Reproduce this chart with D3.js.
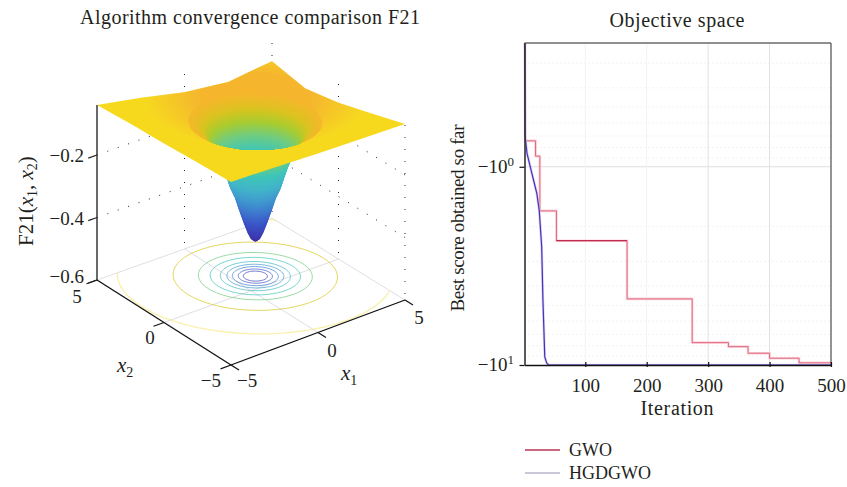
<!DOCTYPE html>
<html>
<head>
<meta charset="utf-8">
<script src="https://d3js.org/d3.v7.min.js"></script>
<style>
  html, body { margin: 0; padding: 0; background: #fff; }
  text { font-family: "Liberation Serif", serif; fill: #231f20; }
</style>
</head>
<body>
<svg id="chart" width="847" height="487"></svg>
<script>
// left panel: well profile (radius from the well centre -> height)
var wellCentre = [1, 1];
var wellRadius = [0.05, 0.23, 0.37, 0.55, 0.78, 0.96, 1.18, 1.36, 1.5, 1.7, 1.93, 2.2, 2.5, 2.84, 3.07];
var wellZ = [-0.488, -0.478, -0.459, -0.427, -0.382, -0.344, -0.312, -0.274, -0.245, -0.213, -0.181, -0.152, -0.126, -0.114, -0.107];

// outline of the flat part of the surface
var plateX1 = [-5, -5, -5, -5, -5, -2.5, 0, 2.5, 5, 5, 5, 5, 5, 2.5, 0, -2.5];
var plateX2 = [5, 2.5, 0, -2.5, -5, -5, -5, -5, -5, -2.5, 0, 2.5, 5, 5, 5, 5];
var plateZ = [-0.04, -0.032, -0.027, -0.02, -0.014, -0.02, -0.027, -0.032, -0.037, -0.069, -0.1, -0.12, -0.098, -0.115, -0.098, -0.066];

// contour rings on the floor
var contourRadius = [0.55, 0.78, 1.05, 1.3, 1.6, 2.06, 2.6, 3.75, 6.3];
var contourZ = [-0.46, -0.42, -0.37, -0.33, -0.28, -0.24, -0.2, -0.135, -0.1];

var xyTicks = [-5, 0, 5];
var zTicks = [-0.6, -0.4, -0.2];

// colour ramp
var colourZ = [-0.49, -0.42, -0.35, -0.29, -0.24, -0.2, -0.165, -0.135, -0.11];
var colourStops = ["#3d2ea6", "#3a55c8", "#3f8fd0", "#42b4c9", "#3fc6b8", "#70cc80", "#a8cc30", "#d8c420", "#f2b92c"];

// right panel
var iterTicks = [100, 200, 300, 400, 500];
var minorValues = [0.3, 0.4, 0.5, 0.6, 0.7, 0.8, 0.9, 2, 3, 4, 5, 6, 7, 8, 9];
var gwoIter = [1, 2, 19, 26, 53, 168, 274, 333, 365, 400, 448, 500];
var gwoScore = [-0.22, -0.74, -0.884, -1.67, -2.36, -4.64, -7.71, -8.08, -8.72, -9.24, -9.75, -10];
var hgdIter = [1, 2, 5, 13, 21, 25, 29, 31, 34, 37, 40, 500];
var hgdScore = [-0.22, -0.7, -0.854, -1.08, -1.36, -1.66, -2.54, -4.7, -9.1, -9.75, -10, -10];

var svg = d3.select("#chart");
var defs = svg.append("defs");

// ---------- left panel: 3D projection ----------
var cornerL = [97, 280], cornerF = [231, 365], cornerR = [405, 300], cornerB = [272, 218];
var u1 = d3.scaleLinear().domain([-5, 5]).range([0, 1]);
var u2 = d3.scaleLinear().domain([-5, 5]).range([0, 1]);
var zHeight = d3.scaleLinear().domain([-0.6, -0.2]).range([0, 125]);

function project(x1, x2, z) {
  var a = u1(x1), b = u2(x2);
  var px = (1 - a) * (1 - b) * cornerF[0] + a * (1 - b) * cornerR[0] + (1 - a) * b * cornerL[0] + a * b * cornerB[0];
  var py = (1 - a) * (1 - b) * cornerF[1] + a * (1 - b) * cornerR[1] + (1 - a) * b * cornerL[1] + a * b * cornerB[1];
  return [px, py - zHeight(z)];
}

var line = d3.line();
var angles = d3.range(0, 360, 6).map(function(d) { return d * Math.PI / 180; });

// ring around the well, a bit squashed along the x1 = x2 diagonal
function ringPath(r, z) {
  var pts = angles.map(function(t) {
    var p = r * Math.cos(t) / Math.SQRT2, q = 0.87 * r * Math.sin(t) / Math.SQRT2;
    return project(wellCentre[0] + p + q, wellCentre[1] - p + q, z);
  });
  return line(pts) + "Z";
}

var colour = d3.scaleLinear().domain(colourZ).range(colourStops).clamp(true);

// shade the well with thin bands between the profile values above
var profile = d3.scaleLinear().domain(wellRadius).range(wellZ);
var bandRadius = d3.range(wellRadius[0], wellRadius[wellRadius.length - 1], 0.02);

var left = svg.append("g");

var soft = defs.append("filter").attr("id", "soft").attr("x", "-10%").attr("y", "-10%").attr("width", "120%").attr("height", "120%");
soft.append("feGaussianBlur").attr("stdDeviation", 0.7);
var softer = defs.append("filter").attr("id", "softer").attr("x", "-10%").attr("y", "-10%").attr("width", "120%").attr("height", "120%");
softer.append("feGaussianBlur").attr("stdDeviation", 0.35);

// floor
var floorPts = [[-5, 5], [5, 5], [5, -5], [-5, -5]].map(function(d) { return project(d[0], d[1], -0.6); });
defs.append("clipPath").attr("id", "floorClip").append("path").attr("d", line(floorPts) + "Z");

var floorLines = [[[-5, 5], [5, 5]], [[5, 5], [5, -5]], [[0, -5], [0, 5]], [[-5, 0], [5, 0]]];
left.selectAll(".floorLine").data(floorLines).enter().append("path")
  .attr("d", function(d) { return line(d.map(function(p) { return project(p[0], p[1], -0.6); })); })
  .attr("fill", "none").attr("stroke", "#e0dee4").attr("stroke-width", 1);

left.append("g").attr("clip-path", "url(#floorClip)").append("g").attr("filter", "url(#softer)")
  .selectAll("path").data(contourRadius).enter().append("path")
  .attr("d", function(d) { return ringPath(d, -0.6); })
  .attr("fill", "none")
  .attr("stroke", function(d, i) { return i === 8 ? "#f6eb8a" : colour(contourZ[i]); })
  .attr("stroke-width", function(d, i) { return i === 8 ? 1.4 : 1; })
  .attr("opacity", 0.7);

// dotted wall grid
var wallVerticals = [[0, 5], [5, 5], [5, 0], [5, -5]];
left.selectAll(".wallV").data(wallVerticals).enter().append("line")
  .attr("x1", function(d) { return project(d[0], d[1], -0.6)[0]; })
  .attr("y1", function(d) { return project(d[0], d[1], -0.04)[1]; })
  .attr("x2", function(d) { return project(d[0], d[1], -0.6)[0]; })
  .attr("y2", function(d) { return project(d[0], d[1], -0.6)[1]; })
  .attr("stroke", "#222").attr("stroke-width", 1).attr("stroke-dasharray", "1 11");

left.selectAll(".wallZ").data([-0.4, -0.2]).enter().append("path")
  .attr("d", function(z) { return line([project(-5, 5, z), project(5, 5, z), project(5, -5, z)]); })
  .attr("fill", "none").attr("stroke", "#222").attr("stroke-width", 1).attr("stroke-dasharray", "1 10");

// surface
var rimIndex = wellRadius.length - 1;
var rimPath = ringPath(wellRadius[rimIndex], wellZ[rimIndex]);
defs.append("clipPath").attr("id", "rimClip").append("path").attr("d", rimPath);

var platePts = plateX1.map(function(d, i) { return project(d, plateX2[i], plateZ[i]); });
var platePath = line(platePts) + "Z";
defs.append("clipPath").attr("id", "plateClip").append("path").attr("d", platePath);

var wash = defs.append("radialGradient").attr("id", "wash")
  .attr("gradientUnits", "userSpaceOnUse").attr("cx", 0).attr("cy", 0).attr("r", 1)
  .attr("gradientTransform", "translate(256,98) scale(112,50)");
wash.append("stop").attr("offset", "0.5").attr("stop-color", "#f5b62f").attr("stop-opacity", 1);
wash.append("stop").attr("offset", "1").attr("stop-color", "#f5b62f").attr("stop-opacity", 0);

var surface = left.append("g").attr("filter", "url(#soft)");

// outside of the funnel, deepest ring first
surface.append("g").selectAll("path").data(bandRadius).enter().append("path")
  .attr("d", function(r) { return ringPath(r, profile(r)); })
  .attr("fill", function(r) { return colour(profile(r)); });

// flat part
surface.append("path").attr("d", platePath).attr("fill", "#f6d91f");
surface.append("g").attr("clip-path", "url(#plateClip)").append("rect")
  .attr("x", 90).attr("y", 40).attr("width", 330).attr("height", 110).attr("fill", "url(#wash)");

// inside of the well, rim first
var interior = surface.append("g").attr("clip-path", "url(#rimClip)");
interior.selectAll("path").data(bandRadius.slice().reverse()).enter().append("path")
  .attr("d", function(r) { return ringPath(r, profile(r)); })
  .attr("fill", function(r) { return colour(profile(r)); });

// 3D axes
function axisSegment(a, b, colourName, width) {
  left.append("path").attr("d", line([a, b])).attr("stroke", colourName).attr("stroke-width", width).attr("fill", "none");
}
axisSegment(project(-5, 5, -0.6), project(-5, -5, -0.6), "#111", 1.3);
axisSegment(project(-5, -5, -0.6), project(5, -5, -0.6), "#111", 1.3);
axisSegment(project(-5, 5, -0.6), project(-5, 5, -0.04), "#444", 1.6);

xyTicks.forEach(function(t) {
  axisSegment(project(-5, t, -0.6), project(-5.6, t, -0.6), "#111", 1.2);
  axisSegment(project(t, -5, -0.6), project(t, -5.6, -0.6), "#111", 1.2);
});
zTicks.forEach(function(t) {
  axisSegment(project(-5, 5, t), project(-5.5, 5, t), "#222", 1.2);
});

var tickFont = 19;
function addText(g, x, y, str, anchor) {
  return g.append("text").attr("x", x).attr("y", y).attr("text-anchor", anchor || "middle")
    .attr("font-size", tickFont).text(str);
}
function minus(v, digits) {
  return (v < 0 ? "\u2212" : "") + Math.abs(v).toFixed(digits);
}

zTicks.forEach(function(t) {
  var p = project(-5, 5, t);
  addText(left, 84, p[1] + 2 + (t === -0.6 ? 1 : 5), minus(t, 1), "end");
});
// x2 labels sit left of the axis, x1 labels right of it
xyTicks.forEach(function(t) {
  var p = project(-5, t, -0.6), q = project(t, -5, -0.6);
  addText(left, t === -5 ? p[0] - 10 : (t === 0 ? p[0] - 14 : p[0] - 20), p[1] + (t === 5 ? 23 : (t === 0 ? 21 : 22)), minus(t, 0), t === -5 ? "end" : "middle");
  addText(left, t === -5 ? q[0] + 6 : q[0] + 14, q[1] + (t === 5 ? 24 : (t === 0 ? 24 : 22)), minus(t, 0), t === -5 ? "start" : "middle");
});

function subLabel(g, x, y, sub) {
  var t = g.append("text").attr("x", x).attr("y", y).attr("font-size", 21);
  t.append("tspan").attr("font-style", "italic").text("x");
  t.append("tspan").attr("dy", 5).attr("font-size", 14).text(sub);
  return t;
}
subLabel(left, 341, 380, "1");
subLabel(left, 117, 372, "2");

var zLabel = left.append("text").attr("transform", "translate(33,246) rotate(-90)").attr("font-size", 21);
zLabel.append("tspan").text("F21(");
zLabel.append("tspan").attr("font-style", "italic").text("x");
zLabel.append("tspan").attr("dy", 4).attr("font-size", 14).text("1");
zLabel.append("tspan").attr("dy", -4).text(", ");
zLabel.append("tspan").attr("font-style", "italic").text("x");
zLabel.append("tspan").attr("dy", 4).attr("font-size", 14).text("2");
zLabel.append("tspan").attr("dy", -4).text(")");

addText(left, 250, 24, "Algorithm convergence comparison F21")
  .attr("font-size", 20).attr("textLength", 340).attr("lengthAdjust", "spacing");

// ---------- right panel ----------
var plot = { left: 524.5, right: 831, top: 43, bottom: 365 };
var xScale = d3.scaleLinear().domain([1, 500]).range([plot.left, plot.right]);
var yScale = d3.scaleLog().domain([-0.2375, -10]).range([plot.top, plot.bottom]);

var right = svg.append("g");

right.selectAll(".minorY").data(minorValues).enter().append("line")
  .attr("x1", plot.left).attr("x2", plot.right)
  .attr("y1", function(d) { return yScale(-d); }).attr("y2", function(d) { return yScale(-d); })
  .attr("stroke", "#e8e6e2").attr("stroke-dasharray", "1 3");
right.append("line").attr("x1", plot.left).attr("x2", plot.right)
  .attr("y1", yScale(-1)).attr("y2", yScale(-1)).attr("stroke", "#dedede");
right.selectAll(".gridX").data(iterTicks).enter().append("line")
  .attr("x1", function(d) { return xScale(d); }).attr("x2", function(d) { return xScale(d); })
  .attr("y1", plot.top).attr("y2", plot.bottom)
  .attr("stroke", function(d) { return d >= 300 ? "#e2e2e2" : "#f3f3f6"; });

defs.append("clipPath").attr("id", "plotClip").append("rect")
  .attr("x", plot.left - 1).attr("y", plot.top).attr("width", plot.right - plot.left + 1).attr("height", plot.bottom - plot.top + 1);

var curves = right.append("g").attr("clip-path", "url(#plotClip)");

var gwoLine = d3.line().curve(d3.curveStepAfter)
  .x(function(d, i) { return xScale(gwoIter[i]); })
  .y(function(d) { return yScale(d); });
var hgdLine = d3.line()
  .x(function(d, i) { return xScale(hgdIter[i]); })
  .y(function(d) { return yScale(d); });

curves.append("path").attr("d", gwoLine(gwoScore)).attr("fill", "none")
  .attr("stroke", "#fbc6cd").attr("stroke-width", 2.6).attr("opacity", 0.75);
curves.append("path").attr("d", gwoLine(gwoScore)).attr("fill", "none")
  .attr("stroke", "#dc5a76").attr("stroke-width", 0.9);
// the long flat stretch is printed darker
curves.append("line").attr("x1", xScale(gwoIter[4])).attr("x2", xScale(gwoIter[5]))
  .attr("y1", yScale(gwoScore[4])).attr("y2", yScale(gwoScore[4]))
  .attr("stroke", "#bf2d50").attr("stroke-width", 1.3);
curves.append("path").attr("d", hgdLine(hgdScore)).attr("fill", "none")
  .attr("stroke", "#cfc8f2").attr("stroke-width", 2.6).attr("opacity", 0.8);
curves.append("path").attr("d", hgdLine(hgdScore)).attr("fill", "none")
  .attr("stroke", "#4a30b4").attr("stroke-width", 1.2);

// frame
right.append("line").attr("x1", plot.left).attr("x2", plot.right).attr("y1", plot.top).attr("y2", plot.top).attr("stroke", "#222").attr("stroke-width", 1.2);
right.append("line").attr("x1", plot.right).attr("x2", plot.right).attr("y1", plot.top).attr("y2", plot.bottom).attr("stroke", "#555").attr("stroke-width", 1.2);

var xAxis = d3.axisBottom(xScale).tickValues(iterTicks).tickSize(4).tickPadding(10).tickSizeOuter(0);
var xG = right.append("g").attr("transform", "translate(0," + plot.bottom + ")").call(xAxis);
xG.select(".domain").attr("stroke", "#111").attr("stroke-width", 1.6);
xG.selectAll(".tick line").attr("stroke", "#111").attr("stroke-width", 1.2).attr("y1", -3).attr("y2", 2);
xG.selectAll("text").attr("font-size", tickFont).attr("font-family", null);

var yAxis = d3.axisLeft(yScale).tickValues([-1, -10]).tickSize(5).tickSizeOuter(0).tickFormat("");
var yG = right.append("g").attr("transform", "translate(" + plot.left + ",0)").call(yAxis);
yG.select(".domain").attr("stroke", "#333").attr("stroke-width", 1.6);
yG.selectAll(".tick line").attr("stroke", "#111").attr("stroke-width", 1.2);

[[-1, "0"], [-10, "1"]].forEach(function(d) {
  var t = right.append("text").attr("x", 514).attr("y", yScale(d[0]) + 6).attr("text-anchor", "end").attr("font-size", tickFont);
  t.append("tspan").text("\u221210");
  t.append("tspan").attr("dy", -7).attr("font-size", 13).text(d[1]);
});

addText(right, 677, 27, "Objective space").attr("font-size", 20).attr("textLength", 135).attr("lengthAdjust", "spacing");
addText(right, 677, 415, "Iteration").attr("font-size", 20).attr("textLength", 73).attr("lengthAdjust", "spacing");
right.append("text").attr("transform", "translate(464,218) rotate(-90)").attr("text-anchor", "middle")
  .attr("font-size", 19).attr("textLength", 187).attr("lengthAdjust", "spacing").text("Best score obtained so far");

// legend
var legendNames = ["GWO", "HGDGWO"];
var legendColours = ["#c9687c", "#c9c7d8"];
var legendY = d3.scalePoint().domain(legendNames).range([450, 473]);
var legend = right.selectAll(".legend").data(legendNames).enter().append("g");
legend.append("line").attr("x1", 525).attr("x2", 560)
  .attr("y1", function(d) { return legendY(d); }).attr("y2", function(d) { return legendY(d); })
  .attr("stroke", function(d, i) { return legendColours[i]; }).attr("stroke-width", 1.8);
legend.append("text").attr("x", 569).attr("y", function(d) { return legendY(d) + 6; })
  .attr("font-size", 18).text(function(d) { return d; });
</script>
</body>
</html>
